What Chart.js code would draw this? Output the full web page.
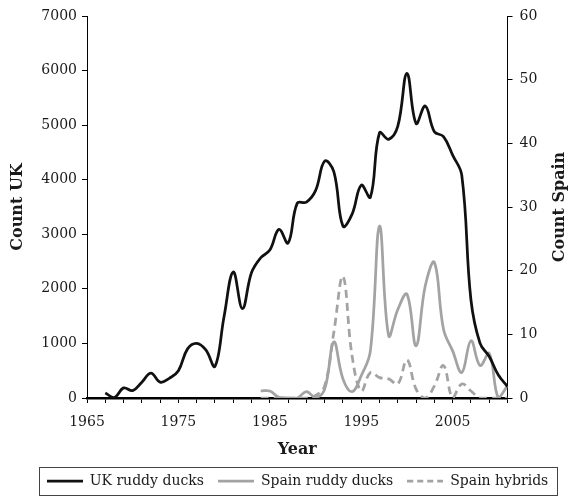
<!DOCTYPE html>
<html>
<head>
<meta charset="utf-8">
<script src="https://cdn.jsdelivr.net/npm/chart.js@4/dist/chart.umd.min.js"></script>
<style>
  html, body { margin: 0; padding: 0; background: #fff; }
  canvas { display: block; }
</style>
</head>
<body>
<canvas id="duckChart" width="568" height="498"></canvas>
<script>
"use strict"

// yearly counts
var yearsUK = [1967,1968,1969,1970,1971,1972,1973,1974,1975,1976,1977,1978,1979,1980,
    1981,1982,1983,1984,1985,1986,1987,1988,1989,1990,1991,1992,1993,1994,1995,1996,
    1997,1998,1999,2000,2001,2002,2003,2004,2005,2006,2007,2008,2009,2010,2011];
var ukRuddy = [90,10,185,135,290,455,290,360,500,900,1000,880,580,1500,
    2310,1640,2300,2570,2710,3090,2840,3570,3590,3800,4340,4150,3150,3370,3900,3680,
    4860,4740,4980,5950,5030,5350,4880,4790,4450,4080,1800,1000,760,420,210];

var yearsSpain = [1984,1985,1986,1987,1988,1989,1990,1991,1992,1993,1994,1995,1996,1997,
    1998,1999,2000,2001,2002,2003,2004,2005,2006,2007,2008,2009,2010,2011];
var spainRuddy = [1.1,1.1,0.1,0,0,1.0,0.1,1.4,8.8,3.0,1.0,3.5,7.4,27.0,
    9.8,13.9,16.3,8.2,17.6,21.3,10.8,7.4,4.0,9.0,5.1,7.0,0,1.9];
var spainHybrids = [0,0,0,0,0,0,0.4,1.9,10.3,19.1,6.6,1.1,4.0,3.2,
    3.0,2.2,6.0,1.4,0,1.9,5.1,0,2.2,1.1,0,0,0,0];

var seriesNames = ['UK ruddy ducks','Spain ruddy ducks','Spain hybrids'];
var titleX = 'Year';
var titleUK = 'Count UK';
var titleSpain = 'Count Spain';

// pair years with values for the linear x scale
function toPoints(xs, ys){
    return xs.map(function(x, i){ return {x: x, y: ys[i]}; });
}

var fontFamily = '"DejaVu Serif", "Liberation Serif", serif';
var inkColor = '#1a1a1a';
var greyColor = '#a3a3a3';
var lineW = 2.75;
var sampleLen = 36;

/*
Small canvases used as legend samples, so the dashed series keeps its dashes
in the legend too.
*/
function makeSample(color, dash){
    var c = document.createElement('canvas');
    c.width = sampleLen;
    c.height = 4;
    var g = c.getContext('2d');
    g.strokeStyle = color;
    g.lineWidth = lineW;
    g.setLineDash(dash);
    g.beginPath();
    g.moveTo(0, 2);
    g.lineTo(sampleLen, 2);
    g.stroke();
    return c;
}
var legendSamples = [
    makeSample('#111', []),
    makeSample(greyColor, []),
    makeSample(greyColor, [6, 4])
];

/*
Draws the right hand axis title reading bottom to top (Chart.js would turn it the
other way) and the thin frame round the legend.
*/
var extrasPlugin = {
    id: 'extras',
    afterDraw: function(chart){
        var ctx = chart.ctx;
        var area = chart.chartArea;

        ctx.save();
        ctx.translate(chart.width - 8, (area.top + area.bottom) / 2);
        ctx.rotate(-Math.PI / 2);
        ctx.font = 'bold 16px ' + fontFamily;
        ctx.fillStyle = inkColor;
        ctx.textAlign = 'center';
        ctx.textBaseline = 'middle';
        ctx.fillText(titleSpain, 0, 0);
        ctx.restore();

        // frame round the legend items
        var boxes = chart.legend.legendHitBoxes;
        if(!boxes || !boxes.length) return;
        var left = boxes[0].left, right = boxes[0].left + boxes[0].width;
        var top = boxes[0].top, bottom = boxes[0].top + boxes[0].height;
        boxes.forEach(function(b){
            left = Math.min(left, b.left);
            right = Math.max(right, b.left + b.width);
            top = Math.min(top, b.top);
            bottom = Math.max(bottom, b.top + b.height);
        });
        ctx.save();
        ctx.strokeStyle = '#444';
        ctx.lineWidth = 1;
        ctx.strokeRect(Math.round(left - 8) + 0.5, Math.round(top - 7) + 0.5,
            Math.round(right - left + 16), Math.round(bottom - top + 14));
        ctx.restore();
    }
};

var tickFont = {family: fontFamily, size: 14};
var titleFont = {family: fontFamily, size: 16, weight: 'bold'};

// shift everything a little so the legend centres where the original one does
var leftShift = 27;

new Chart('duckChart', {
    type: 'line',
    data: {
        datasets: [{
            label: seriesNames[0],
            data: toPoints(yearsUK, ukRuddy),
            yAxisID: 'yUK',
            borderColor: '#111',
            backgroundColor: '#111',
            borderWidth: lineW,
            pointRadius: 0,
            tension: 0.4,
            fill: false
        },{
            label: seriesNames[1],
            data: toPoints(yearsSpain, spainRuddy),
            yAxisID: 'ySpain',
            borderColor: greyColor,
            backgroundColor: greyColor,
            borderWidth: lineW,
            pointRadius: 0,
            tension: 0.4,
            fill: false
        },{
            label: seriesNames[2],
            data: toPoints(yearsSpain, spainHybrids),
            yAxisID: 'ySpain',
            borderColor: greyColor,
            backgroundColor: greyColor,
            borderWidth: lineW,
            borderDash: [8, 5],
            pointRadius: 0,
            tension: 0.4,
            fill: false
        }]
    },
    plugins: [extrasPlugin],
    options: {
        responsive: false,
        animation: false,
        layout: {padding: {top: 16, left: leftShift, right: 0, bottom: 0}},
        plugins: {
            tooltip: {enabled: false},
            legend: {
                position: 'bottom',
                labels: {
                    usePointStyle: true,
                    pointStyleWidth: sampleLen,
                    padding: 14,
                    color: inkColor,
                    font: tickFont,
                    generateLabels: function(chart){
                        var items = Chart.defaults.plugins.legend.labels.generateLabels(chart);
                        items.forEach(function(item, i){ item.pointStyle = legendSamples[i]; });
                        return items;
                    }
                }
            }
        },
        scales: {
            x: {
                type: 'linear',
                min: 1965,
                max: 2011,
                afterFit: function(scale){ scale.height = 62; },
                ticks: {
                    stepSize: 2,
                    autoSkip: false,
                    maxRotation: 0,
                    padding: 11,
                    color: inkColor,
                    font: tickFont,
                    callback: function(v){ return (v - 1965) % 10 === 0 ? String(v) : ''; }
                },
                grid: {display: true, drawOnChartArea: false, drawTicks: true, tickLength: 5, color: '#000'},
                border: {display: true, color: '#000', width: 2.5},
                title: {display: true, text: titleX, color: inkColor, font: titleFont, padding: {top: 0, bottom: 1}}
            },
            yUK: {
                type: 'linear',
                position: 'left',
                min: 0,
                max: 7000,
                afterFit: function(scale){ scale.width = 87 - leftShift; },
                ticks: {
                    stepSize: 1000,
                    padding: 5,
                    color: inkColor,
                    font: tickFont,
                    callback: function(v){ return String(v); }
                },
                grid: {display: true, drawOnChartArea: false, drawTicks: true, tickLength: 5, color: '#000'},
                border: {display: true, color: '#000', width: 1},
                title: {display: true, text: titleUK, color: inkColor, font: titleFont,
                    padding: {top: 8 - leftShift, bottom: 0}}
            },
            ySpain: {
                type: 'linear',
                position: 'right',
                min: 0,
                max: 60,
                afterFit: function(scale){ scale.width = 60.5; },
                ticks: {stepSize: 10, padding: 7, color: inkColor, font: tickFont},
                grid: {display: true, drawOnChartArea: false, drawTicks: true, tickLength: 5, color: '#000'},
                border: {display: true, color: '#000', width: 1}
            }
        }
    }
});
</script>
</body>
</html>
